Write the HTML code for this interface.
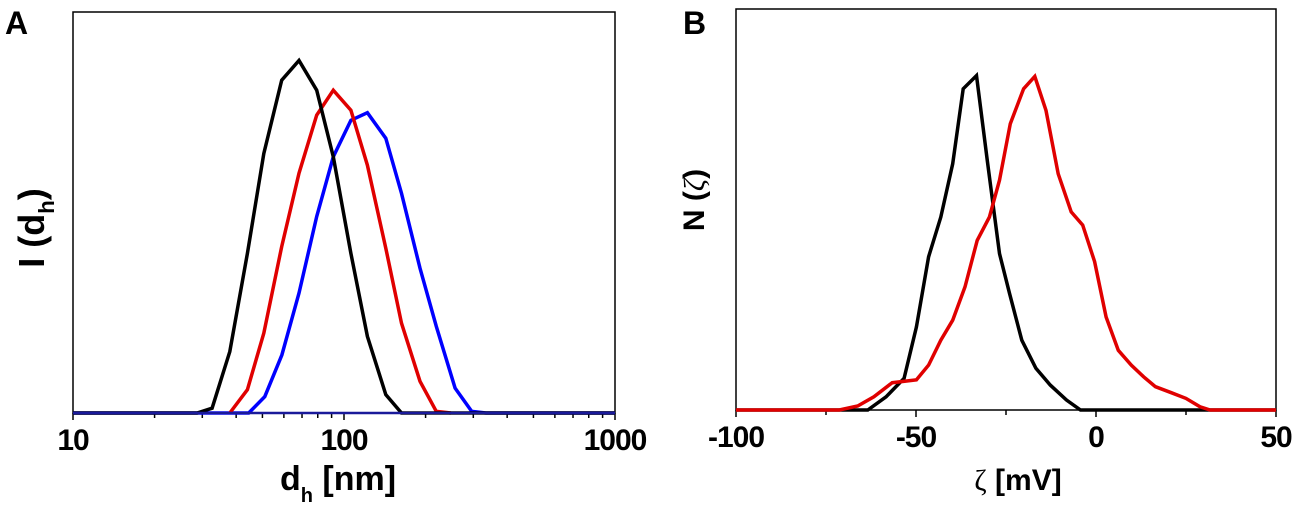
<!DOCTYPE html>
<html><head><meta charset="utf-8"><style>
html,body{margin:0;padding:0;background:#fff;}
svg{display:block;font-family:"Liberation Sans",Arial,sans-serif;}
</style></head><body>
<svg id="chart" width="1298" height="509" viewBox="0 0 1298 509">
<text x="5" y="34" font-size="32" font-weight="bold">A</text>
<text x="683" y="34" font-size="32" font-weight="bold">B</text>
<g id="pa"></g>
<g id="pb"></g>
<text x="338" y="490" font-size="34" font-weight="bold" text-anchor="middle">d<tspan font-size="20" dy="12">h</tspan><tspan dy="-12"> [nm]</tspan></text>
<text transform="translate(44,228) rotate(-90)" font-size="36" font-weight="bold" text-anchor="middle">I (d<tspan font-size="22" dy="10">h</tspan><tspan dy="-10">)</tspan></text>
<text x="1018" y="490" font-size="30" font-weight="bold" text-anchor="middle"><tspan font-family="Liberation Serif,serif" font-weight="normal">ζ</tspan> [mV]</text>
<text transform="translate(704,200) rotate(-90)" font-size="30" font-weight="bold" text-anchor="middle">N (<tspan font-family="Liberation Serif,serif" font-weight="normal" font-style="italic">ζ</tspan>)</text>
</svg>
<script>
// Panel A data (d_h in nm, intensity in % of plot height)
const aBlackX=[10,28.7,32.6,37.9,44.0,50.6,58.9,68.2,79.3,91.3,106,122,142.6,163,1000];
const aBlackY=[0,0,1.2,15.3,39.8,64.7,83.0,87.9,80.5,63.9,39.8,19.1,4.6,0,0];
const aRedX=[37.9,44.0,50.6,58.9,68.2,79.3,91.3,106,122,142.6,163,190.7,219,248];
const aRedY=[0,5.8,19.9,41.5,59.8,74.3,80.5,75.5,61.8,41.1,22.4,7.9,0.4,0];
const aBlueX=[10,44.5,51,59,68.2,79.3,91.3,106,122,142.6,163,190.7,219,257,296,334,1000];
const aBlueY=[0,0,4.1,14.5,29.9,49.0,63.9,73.0,74.9,68.5,54.8,36.1,21.6,6.2,0.4,0,0];
const aTicks=[10,100,1000];
// Panel B data (zeta in mV, N in % of plot height)
const bBlackX=[-100,-63.4,-58.3,-53.3,-49.9,-46.5,-43.1,-39.8,-36.9,-33.2,-30.2,-26.8,-24.0,-20.6,-16.7,-12.7,-8.2,-4.3,50];
const bBlackY=[0,0,3.3,7.9,20.7,38.2,48.1,61.4,80.1,83.4,62.2,39.0,29.0,17.4,10.4,6.2,2.5,0,0];
const bRedX=[-100,-71.3,-66.2,-61.7,-56.6,-49.9,-46.5,-43.1,-39.8,-36.4,-33.0,-29.6,-26.8,-23.8,-20.1,-17.0,-13.9,-10.5,-6.9,-3.7,-0.4,2.8,6.2,9.8,13.2,16.5,21.0,25.0,28.9,31.7,50];
const bRedY=[0,0,1.0,3.3,6.8,7.5,11.2,17.4,22.4,30.7,42.3,48.1,57.3,71.4,80.1,83.2,74.7,58.9,49.4,46.1,37.0,23.2,14.9,11.2,8.3,5.8,4.3,2.9,0.8,0,0];
const bTicks=[-100,-50,0,50];

const NS="http://www.w3.org/2000/svg";
function mk(tag,attrs,parent){const e=document.createElementNS(NS,tag);for(const k in attrs)e.setAttribute(k,attrs[k]);parent.appendChild(e);return e;}
const A={l:73,r:615,t:12,b:413};
const B={l:736,r:1276,t:9,b:410};
const axA=v=>A.l+(Math.log10(v)-1)/2*(A.r-A.l);
const ayA=v=>A.b-v/100*(A.b-A.t);
const axB=v=>B.l+(v+100)/150*(B.r-B.l);
const ayB=v=>B.b-v/100*(B.b-B.t);
function line(g,xs,ys,fx,fy,col,name){
  const p=mk('polyline',{points:xs.map((x,i)=>fx(x).toFixed(1)+','+fy(ys[i]).toFixed(1)).join(' '),fill:'none',stroke:col,'stroke-width':3.5,'stroke-linejoin':'miter'},g);
  
  
}
const ga=document.getElementById('pa');
const fr1=mk('rect',{x:A.l,y:A.t,width:A.r-A.l,height:A.b-A.t,fill:'none',stroke:'#000','stroke-width':1.5},ga);


for(let d=1;d<=2;d++)for(let m=2;m<=9;m++){const x=axA(m*Math.pow(10,d));const t=mk('line',{x1:x,x2:x,y1:A.b,y2:A.b+5,stroke:'#000','stroke-width':1.5},ga);}
aTicks.forEach(v=>{const x=axA(v);mk('line',{x1:x,x2:x,y1:A.b,y2:A.b+7,stroke:'#000','stroke-width':1.5},ga);
 const t=mk('text',{x:x,y:450,'font-size':30,'font-weight':'bold','text-anchor':'middle','letter-spacing':-1},ga);t.textContent=v;
 });
line(ga,aBlueX,aBlueY,axA,ayA,'#0000ff','series-blue');
line(ga,aRedX,aRedY,axA,ayA,'#e00000','series-red');
line(ga,aBlackX,aBlackY,axA,ayA,'#000','series-black');
const bl=mk('line',{x1:A.l,x2:A.r,y1:A.b,y2:A.b,stroke:'#1a1a9a','stroke-width':2.5},ga);


const gb=document.getElementById('pb');
const fr2=mk('rect',{x:B.l,y:B.t,width:B.r-B.l,height:B.b-B.t,fill:'none',stroke:'#000','stroke-width':1.5},gb);


[-75,-25,25].forEach(v=>{const x=axB(v);const t=mk('line',{x1:x,x2:x,y1:B.b,y2:B.b+5,stroke:'#000','stroke-width':1.5},gb);});
bTicks.forEach(v=>{const x=axB(v);mk('line',{x1:x,x2:x,y1:B.b,y2:B.b+7,stroke:'#000','stroke-width':1.5},gb);
 const t=mk('text',{x:x,y:447,'font-size':30,'font-weight':'bold','text-anchor':'middle','letter-spacing':-1},gb);t.textContent=v;
 });
line(gb,bBlackX,bBlackY,axB,ayB,'#000','series-black');
line(gb,bRedX,bRedY,axB,ayB,'#e00000','series-red');
</script>
</body></html>
